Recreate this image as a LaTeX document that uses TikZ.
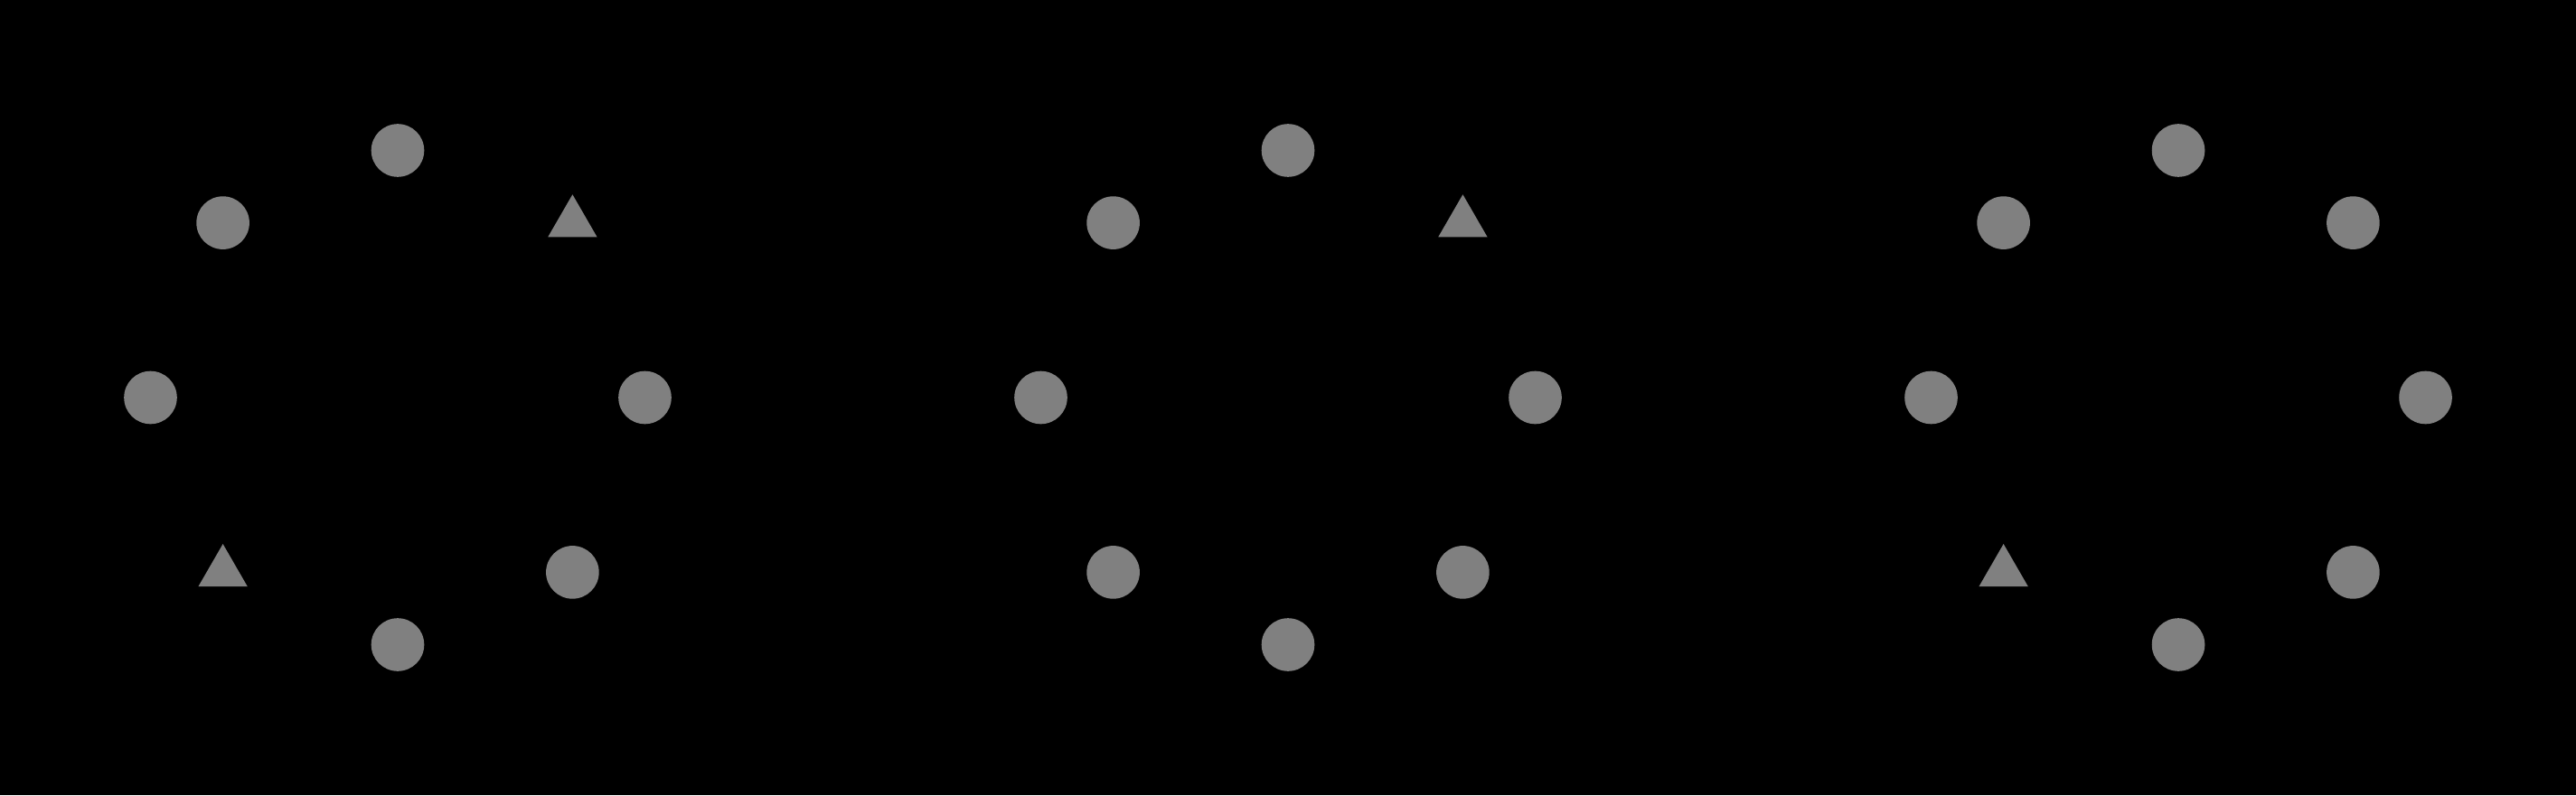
\documentclass[tikz,border=0pt]{standalone}
\usetikzlibrary{shapes.geometric}
\tikzset{
    ptdot/.style={circle, fill=gray, minimum size=5.86mm, inner sep=0pt},
    pttri/.style={regular polygon, regular polygon sides=3, fill=gray, minimum size=6.27mm, inner sep=0pt}
}
\begin{document}
\begin{tikzpicture}
    % background
    \fill[black] (0,0) rectangle (28.5,8.8);
    % three rings of eight points
    \foreach \g/\cx/\ta/\tb in {1/4.40/45/225, 2/14.25/45/-1, 3/24.10/-1/225} {
        \coordinate (c\g) at (\cx, 4.4);
        \foreach \a in {0,45,...,315} {
            \def\shp{ptdot}
            \ifnum\a=\ta \def\shp{pttri}\fi
            \ifnum\a=\tb \def\shp{pttri}\fi
            \node[\shp] (g\g p\a) at ({\cx+2.735*cos(\a)}, {4.4+2.735*sin(\a)}) {};
        }
    }
\end{tikzpicture}
\end{document}
